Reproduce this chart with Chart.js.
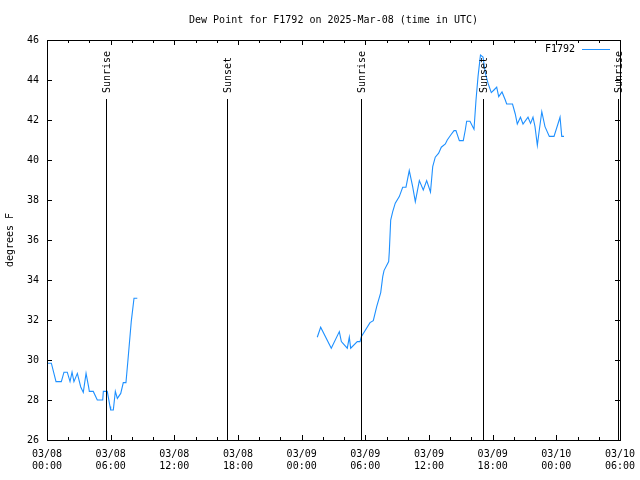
<!DOCTYPE html>
<html>
<head>
<meta charset="utf-8">
<script src="https://cdn.jsdelivr.net/npm/chart.js@4.4.1/dist/chart.umd.min.js"></script>
<style>
  html, body { margin: 0; padding: 0; background: #fff; }
</style>
</head>
<body>
<canvas id="dew" width="640" height="480"></canvas>
<script>
const stationName = "F1792";
const chartTitle = "Dew Point for F1792 on 2025-Mar-08 (time in UTC)";

// time axis is hours since 03/08 00:00 UTC
const hoursA = [0.09, 0.41, 0.85, 1.35, 1.60, 1.91, 2.17, 2.36, 2.54, 2.86, 3.18, 3.42, 3.68, 3.93, 3.99,
  4.36, 4.74, 5.25, 5.31, 5.68, 5.94, 6.00, 6.25, 6.44, 6.63, 6.95, 7.19, 7.44, 7.63, 7.94, 8.20, 8.51];
const dewA = [29.84, 29.84, 28.92, 28.92, 29.39, 29.39, 28.92, 29.39, 28.92, 29.33, 28.65, 28.38, 29.33, 28.63, 28.43,
  28.43, 28.0, 28.0, 28.43, 28.43, 27.67, 27.5, 27.5, 28.43, 28.08, 28.33, 28.87, 28.87, 30.0, 31.92, 33.09, 33.09];

const hoursB = [25.47, 25.79, 26.79, 27.55, 27.74, 28.30, 28.49, 28.62, 29.24, 29.50, 29.62, 30.44, 30.75, 31.07,
  31.45, 31.64, 31.76, 32.20, 32.26, 32.39, 32.58, 32.82, 33.20, 33.52, 33.83, 34.14, 34.46, 34.71, 35.09, 35.46,
  35.78, 36.14, 36.35, 36.59, 36.91, 37.16, 37.54, 37.72, 38.05, 38.36, 38.54, 38.86, 39.23, 39.42, 39.55, 39.86,
  40.24, 40.43, 40.62, 40.85, 41.09, 41.31, 41.56, 41.87, 42.12, 42.38, 42.57, 42.88, 43.19, 43.32, 43.87, 44.13,
  44.32, 44.62, 44.86, 45.33, 45.57, 45.80, 45.99, 46.21, 46.37, 46.63, 46.93, 47.34, 47.78, 48.21, 48.35, 48.51, 48.72];
const dewB = [31.14, 31.64, 30.59, 31.42, 30.92, 30.59, 31.14, 30.59, 30.92, 30.92, 31.17, 31.87, 31.97, 32.67,
  33.37, 34.17, 34.47, 34.92, 35.42, 37.0, 37.42, 37.84, 38.17, 38.64, 38.64, 39.47, 38.67, 37.92, 38.97, 38.5,
  38.97, 38.4, 39.67, 40.14, 40.34, 40.64, 40.8, 41.0, 41.25, 41.47, 41.47, 40.97, 40.97, 41.5, 41.94, 41.94,
  41.54, 43.0, 44.17, 45.25, 45.15, 44.34, 43.84, 43.37, 43.5, 43.64, 43.17, 43.4, 43.0, 42.8, 42.8, 42.3,
  41.8, 42.14, 41.8, 42.14, 41.83, 42.14, 41.67, 40.73, 41.4, 42.42, 41.67, 41.18, 41.18, 41.9, 42.14, 41.18, 41.18];

const xTickLabels = [["03/08", "00:00"], ["03/08", "06:00"], ["03/08", "12:00"], ["03/08", "18:00"],
  ["03/09", "00:00"], ["03/09", "06:00"], ["03/09", "12:00"], ["03/09", "18:00"],
  ["03/10", "00:00"], ["03/10", "06:00"]];

const sunriseHours = [5.59, 29.62, 53.78];
const sunsetHours = [16.93, 41.12];

const FONT = "DejaVu Sans Mono";
const lineColor = "#1e90ff";

const points = [];
hoursA.forEach((h, i) => points.push({ x: h, y: dewA[i] }));
points.push({ x: 16, y: null });
hoursB.forEach((h, i) => points.push({ x: h, y: dewB[i] }));

const gnuplotFrame = {
  id: "gnuplotFrame",
  afterDraw(chart) {
    const { ctx, chartArea: a, scales: { x, y } } = chart;
    ctx.save();
    ctx.strokeStyle = "#000";
    ctx.lineWidth = 1;

    // ticks, inward and mirrored
    ctx.beginPath();
    for (let h = 0; h <= 54; h += 2) {
      const px = Math.round(x.getPixelForValue(h)) + 0.5;
      const len = h % 6 === 0 ? 5 : 3;
      ctx.moveTo(px, a.bottom); ctx.lineTo(px, a.bottom - len);
      ctx.moveTo(px, a.top); ctx.lineTo(px, a.top + len);
    }
    for (let v = 26; v <= 46; v += 2) {
      const py = Math.round(y.getPixelForValue(v)) + 0.5;
      ctx.moveTo(a.left, py); ctx.lineTo(a.left + 5, py);
      ctx.moveTo(a.right, py); ctx.lineTo(a.right - 5, py);
    }
    ctx.stroke();

    // sunrise / sunset markers
    ctx.font = "10px '" + FONT + "'";
    ctx.fillStyle = "#000";
    const marks = sunriseHours.map(h => [h, "Sunrise"]).concat(sunsetHours.map(h => [h, "Sunset"]));
    marks.forEach(([h, label]) => {
      const px = Math.round(x.getPixelForValue(h)) + 0.5;
      ctx.beginPath();
      ctx.moveTo(px, 99); ctx.lineTo(px, a.bottom);
      ctx.stroke();
      ctx.save();
      ctx.translate(px + 1, 93);
      ctx.rotate(-Math.PI / 2);
      ctx.textAlign = "left";
      ctx.textBaseline = "middle";
      ctx.fillText(label, 0, 0);
      ctx.restore();
    });

    // border
    ctx.strokeRect(Math.round(a.left) + 0.5, Math.round(a.top) + 0.5,
      Math.round(a.right - a.left), Math.round(a.bottom - a.top));

    // title
    ctx.textAlign = "center";
    ctx.textBaseline = "middle";
    ctx.fillText(chartTitle, (a.left + a.right) / 2, 20);

    // key
    ctx.textAlign = "right";
    ctx.fillText(chart.data.datasets[0].label, 575, 49);
    ctx.strokeStyle = lineColor;
    ctx.beginPath();
    ctx.moveTo(582, 49.5); ctx.lineTo(610, 49.5);
    ctx.stroke();
    ctx.restore();
  }
};

new Chart(document.getElementById("dew"), {
  type: "line",
  data: {
    datasets: [{
      label: stationName,
      data: points,
      borderColor: lineColor,
      borderWidth: 1.1,
      pointRadius: 0,
      tension: 0,
      spanGaps: false
    }]
  },
  options: {
    responsive: false,
    animation: false,
    devicePixelRatio: 1,
    layout: { padding: { top: 40, right: 20, left: 0, bottom: 0 } },
    plugins: { legend: { display: false }, tooltip: { enabled: false } },
    scales: {
      x: {
        type: "linear",
        min: 0,
        max: 54,
        grid: { display: false, drawTicks: false },
        border: { display: false },
        ticks: {
          stepSize: 6,
          autoSkip: false,
          maxRotation: 0,
          padding: 8,
          color: "#000",
          font: { family: FONT, size: 10 },
          callback: v => xTickLabels[Math.round(v / 6)]
        },
        afterFit: s => { s.height = 40; s.paddingLeft = 0; s.paddingRight = 0; }
      },
      y: {
        min: 26,
        max: 46,
        grid: { display: false, drawTicks: false },
        border: { display: false },
        ticks: {
          stepSize: 2,
          padding: 8,
          color: "#000",
          font: { family: FONT, size: 10 }
        },
        title: {
          display: true,
          text: "degrees F",
          color: "#000",
          font: { family: FONT, size: 10 },
          padding: { top: 4, bottom: 0 }
        },
        afterFit: s => { s.width = 47; s.paddingTop = 0; s.paddingBottom = 0; }
      }
    }
  },
  plugins: [gnuplotFrame]
});
</script>
</body>
</html>
